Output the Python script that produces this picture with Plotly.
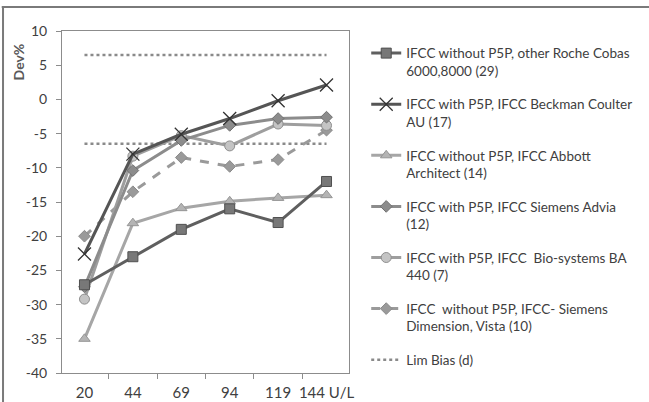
import plotly.graph_objects as go

categories = ["20", "44", "69", "94", "119", "144 U/L"]
y_tick_values = [10, 5, 0, -5, -10, -15, -20, -25, -30, -35, -40]
y_tick_labels = ["10", "5", "0", "-5", "-10", "-15", "-20", "-25", "-30", "-35", "-40"]

roche = [-27.1, -23.0, -19.0, -16.0, -18.0, -12.0]
beckman = [-22.6, -8.0, -5.1, -2.8, -0.2, 2.1]
abbott = [-35.0, -18.1, -15.9, -14.9, -14.4, -14.0]
advia = [-27.4, -10.4, -6.0, -3.8, -2.8, -2.6]
biosys = [-29.2, -8.3, -5.3, -6.8, -3.6, -3.8]
dimension = [-20.0, -13.5, -8.5, -9.8, -8.8, -4.5]
lim_upper = [6.5] * 6
lim_lower = [-6.5] * 6

names = [
    "IFCC without P5P, other Roche Cobas<br>6000,8000 (29)",
    "IFCC with P5P, IFCC Beckman Coulter<br>AU (17)",
    "IFCC without P5P, IFCC Abbott<br>Architect (14)",
    "IFCC with P5P, IFCC Siemens Advia<br>(12)",
    "IFCC with P5P, IFCC  Bio-systems BA<br>440 (7)",
    "IFCC  without P5P, IFCC- Siemens<br>Dimension, Vista (10)",
    "Lim Bias (d)",
]

FONT = "Lato"
FS = 14
fig = go.Figure()

def add(y, name, color, symbol, mfill, mline, dash="solid", size=9, grp=None):
    fig.add_trace(go.Scatter(
        x=categories, y=y, name=name, mode="lines+markers",
        line=dict(color=color, width=3, dash=dash),
        marker=dict(symbol=symbol, size=size, color=mfill,
                    line=dict(color=mline, width=1)),
        legendgroup=grp or name,
    ))

add(lim_upper, names[6], "#8a8a8a", "circle", "#8a8a8a", "#8a8a8a", dash="dot", size=1, grp="lim")
fig.data[-1].update(mode="lines", line=dict(width=2.5), showlegend=False)
add(lim_lower, names[6], "#8a8a8a", "circle", "#8a8a8a", "#8a8a8a", dash="dot", size=1, grp="lim")
fig.data[-1].update(mode="lines", line=dict(width=2.5))

add(dimension, names[5], "#9a9a9a", "diamond", "#9a9a9a", "#8a8a8a", dash="dash", size=9)
add(biosys, names[4], "#9e9e9e", "circle", "#c4c4c4", "#8e8e8e", size=10)
add(advia, names[3], "#8c8c8c", "diamond", "#8c8c8c", "#707070", size=9)
add(abbott, names[2], "#a6a6a6", "triangle-up", "#b4b4b4", "#959595", size=10)
add(beckman, names[1], "#555555", "x-thin", "#333333", "#333333", size=13)
fig.data[-1].update(marker=dict(line=dict(width=1.3, color="#333333")))
add(roche, names[0], "#5f5f5f", "square", "#787878", "#505050", size=10)

ranks = {names[i]: i + 1 for i in range(7)}
for tr in fig.data:
    tr.legendrank = ranks[tr.name]

axis_color = "#8c8c8c"
fig.update_layout(
    width=649, height=402,
    margin=dict(l=62, r=300, t=31, b=29),
    paper_bgcolor="white", plot_bgcolor="white",
    font=dict(family=FONT, size=FS, color="#404040"),
    xaxis=dict(
        type="category", tickson="boundaries", ticks="outside", ticklen=5,
        tickcolor=axis_color, showline=True, linecolor=axis_color, linewidth=1,
        mirror=True, showgrid=False, zeroline=False, tickangle=0,
        ticklabelstandoff=6, automargin=False,
        tickfont=dict(family=FONT, size=15, color="#404040"),
    ),
    yaxis=dict(
        range=[-40, 10], tickvals=y_tick_values, ticktext=y_tick_labels,
        ticks="outside", ticklen=5, tickcolor=axis_color,
        showline=True, linecolor=axis_color, linewidth=1, mirror=True,
        showgrid=False, zeroline=False, ticklabelstandoff=6, automargin=False,
        tickfont=dict(family=FONT, size=FS, color="#404040"),
    ),
    legend=dict(
        x=1.06, y=0.98, xanchor="left", yanchor="top",
        traceorder="grouped", tracegroupgap=13, valign="top",
        font=dict(family=FONT, size=13.5, color="#404040"),
        bgcolor="rgba(0,0,0,0)",
    ),
    showlegend=True,
)

fig.add_annotation(
    text="<b>Dev%</b>", textangle=-90, xref="paper", yref="paper",
    x=-0.1535, y=0.911, xanchor="center", yanchor="middle", showarrow=False,
    font=dict(family=FONT, size=FS, color="#595959"),
)

fig.add_shape(type="line", xref="paper", yref="paper", x0=-0.21, x1=2.05,
              y0=1.0702, y1=1.0702, line=dict(color="#7a7a7a", width=2))
fig.add_shape(type="line", xref="paper", yref="paper", x0=-0.2055, x1=-0.2055,
              y0=1.0702, y1=-0.2, line=dict(color="#7a7a7a", width=2))

fig.write_html("out.html", config={"displayModeBar": False},
               post_script="document.body.style.margin='0';")
